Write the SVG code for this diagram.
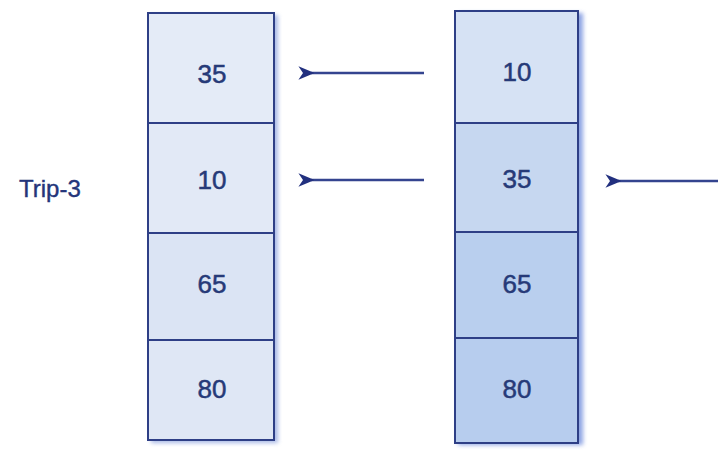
<svg xmlns="http://www.w3.org/2000/svg" width="718" height="453" viewBox="0 0 718 453">
<style>
.cell{stroke:#2e3f86;stroke-width:2}
.num{font-family:"Liberation Sans",Arial,sans-serif;font-size:26px;fill:#263a78;text-anchor:middle;stroke:#263a78;stroke-width:0.5}
.lbl{font-family:"Liberation Sans",Arial,sans-serif;font-size:24px;fill:#24357a;stroke:#24357a;stroke-width:0.4}
.arr{stroke:#34448f;stroke-width:2.5;fill:none}
</style>
<defs>
<marker id="ah" viewBox="0 0 14 12" refX="3" refY="6" markerUnits="userSpaceOnUse" markerWidth="16" markerHeight="14" orient="auto-start-reverse">
<path d="M0,6 L14,0 L10,6 L14,12 Z" fill="#22307f"/>
</marker>
<filter id="sh" x="-20%" y="-5%" width="140%" height="110%"><feGaussianBlur stdDeviation="2"/></filter>
</defs>
<rect width="718" height="453" fill="#ffffff"/>
<rect x="151" y="15" width="127" height="428" fill="#6f8ad6" opacity="0.6" filter="url(#sh)"/>
<rect x="458" y="13" width="125" height="432" fill="#5f7fd8" opacity="0.7" filter="url(#sh)"/>
<g id="left-col">
<g id="l1"><rect class="cell" x="148" y="13" width="126" height="110" fill="#e4ebf7"/><text class="num" x="212" y="83">35</text></g>
<g id="l2"><rect class="cell" x="148" y="123" width="126" height="110" fill="#e2e9f6"/><text class="num" x="212" y="189">10</text></g>
<g id="l3"><rect class="cell" x="148" y="233" width="126" height="107" fill="#dbe4f4"/><text class="num" x="212" y="293">65</text></g>
<g id="l4"><rect class="cell" x="148" y="340" width="126" height="100" fill="#dfe7f5"/><text class="num" x="212" y="398">80</text></g>
</g>
<g id="right-col">
<g id="r1"><rect class="cell" x="455" y="11" width="123" height="112" fill="#d6e2f4"/><text class="num" x="517" y="81">10</text></g>
<g id="r2"><rect class="cell" x="455" y="123" width="123" height="109" fill="#c6d7f0"/><text class="num" x="517" y="188">35</text></g>
<g id="r3"><rect class="cell" x="455" y="232" width="123" height="106" fill="#b9cfee"/><text class="num" x="517" y="293">65</text></g>
<g id="r4"><rect class="cell" x="455" y="338" width="123" height="105" fill="#b7cdee"/><text class="num" x="517" y="398">80</text></g>
</g>
<g id="trip-label"><text class="lbl" x="19" y="197">Trip-3</text></g>
<g id="connectors">
<line class="arr" x1="424" y1="73" x2="311" y2="73" marker-end="url(#ah)"/>
<line class="arr" x1="424" y1="180" x2="311" y2="180" marker-end="url(#ah)"/>
<line class="arr" x1="718" y1="181" x2="618" y2="181" marker-end="url(#ah)"/>
</g>
</svg>
